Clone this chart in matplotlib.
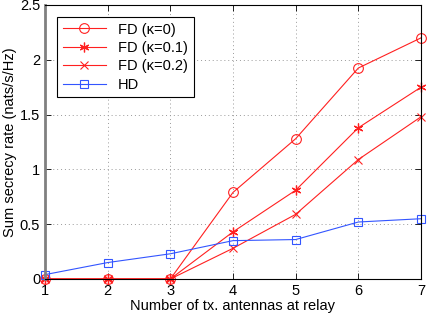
import matplotlib
matplotlib.use('Agg')
import matplotlib.pyplot as plt

plt.rcParams['font.family'] = ['Liberation Sans', 'DejaVu Sans']

antennas = [1, 2, 3, 4, 5, 6, 7]
fd_k0 = [0, 0, 0, 0.79, 1.28, 1.925, 2.2]
fd_k01 = [0, 0, 0, 0.43, 0.81, 1.38, 1.75]
fd_k02 = [0, 0, 0, 0.28, 0.59, 1.09, 1.48]
hd = [0.04, 0.15, 0.23, 0.35, 0.36, 0.52, 0.55]

y_ticks = [0, 0.5, 1, 1.5, 2, 2.5]
y_tick_labels = ['0', '0.5', '1', '1.5', '2', '2.5']

fig = plt.figure(figsize=(4.28, 3.17), dpi=100)
ax = fig.add_axes([45 / 428, 38 / 317, 376 / 428, 274 / 317])

red = '#ff2020'
blue = '#3355ff'
ax.plot(antennas, fd_k0, color=red, lw=0.8, marker='o', ms=7, mfc='none', mew=0.8,
        clip_on=False, label='FD (\u03ba=0)')
ax.plot(antennas, fd_k01, color=red, lw=0.8, marker=(6, 2, 0), ms=7, mew=0.9,
        clip_on=False, label='FD (\u03ba=0.1)')
ax.plot(antennas, fd_k02, color=red, lw=0.8, marker='x', ms=6, mew=0.8,
        clip_on=False, label='FD (\u03ba=0.2)')
ax.plot(antennas, hd, color=blue, lw=0.8, marker='s', ms=6, mfc='none', mew=0.8,
        clip_on=False, label='HD')

ax.set_xlim(1, 7)
ax.set_ylim(0, 2.5)
ax.set_xticks(antennas)
ax.set_yticks(y_ticks)
ax.set_yticklabels(y_tick_labels)
ax.tick_params(direction='in', top=True, right=True, labelsize=10.5, length=4, width=0.6)
ax.grid(True, linestyle=(0, (1, 3)), color='#999999', lw=0.7)
ax.spines['left'].set_color('#808080')
ax.spines['left'].set_linewidth(2)
for s in ['top', 'right', 'bottom']:
    ax.spines[s].set_linewidth(0.8)

ax.set_xlabel('Number of tx. antennas at relay', fontsize=10.5, labelpad=1)
ax.set_ylabel('Sum secrecy rate (nats/s/Hz)', fontsize=10.5, labelpad=2)

leg = ax.legend(loc='upper left', fontsize=10.5, fancybox=False, edgecolor='black',
                framealpha=1, handlelength=3, borderaxespad=0.8, labelspacing=0.3)
leg.get_frame().set_linewidth(0.8)

fig.savefig('out.png', dpi=100)
